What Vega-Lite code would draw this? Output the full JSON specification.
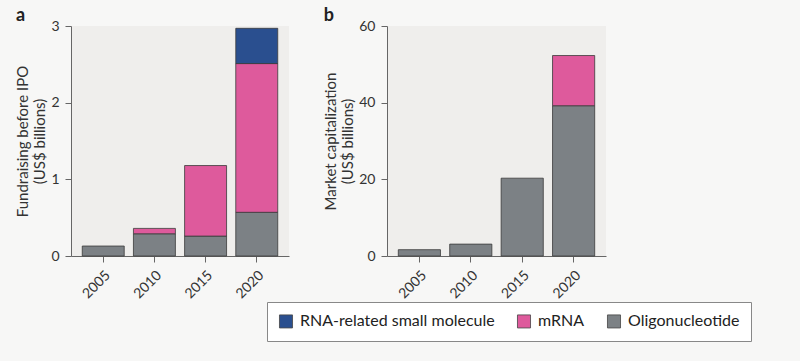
{
  "$schema": "https://vega.github.io/schema/vega-lite/v6.json",
  "background": "#f7f7f6",
  "padding": {"left": 15, "top": 7, "right": 55, "bottom": 30},
  "datasets": {
    "fund": [
      {"year": "2005", "type": "Oligonucleotide", "ord": 1, "value": 0.13},
      {"year": "2010", "type": "Oligonucleotide", "ord": 1, "value": 0.29},
      {"year": "2010", "type": "mRNA", "ord": 2, "value": 0.07},
      {"year": "2015", "type": "Oligonucleotide", "ord": 1, "value": 0.26},
      {"year": "2015", "type": "mRNA", "ord": 2, "value": 0.92},
      {"year": "2020", "type": "Oligonucleotide", "ord": 1, "value": 0.57},
      {"year": "2020", "type": "mRNA", "ord": 2, "value": 1.94},
      {"year": "2020", "type": "RNA-related small molecule", "ord": 3, "value": 0.46}
    ],
    "cap": [
      {"year": "2005", "type": "Oligonucleotide", "ord": 1, "value": 1.65},
      {"year": "2010", "type": "Oligonucleotide", "ord": 1, "value": 3.1},
      {"year": "2015", "type": "Oligonucleotide", "ord": 1, "value": 20.3},
      {"year": "2020", "type": "Oligonucleotide", "ord": 1, "value": 39.2},
      {"year": "2020", "type": "mRNA", "ord": 2, "value": 13.1}
    ]
  },
  "spacing": 34,
  "hconcat": [
    {
      "title": {"text": "a", "anchor": "start", "frame": "bounds", "fontSize": 18, "fontWeight": "bold", "font": "Lato", "color": "#222", "offset": -6},
      "width": 218,
      "height": 230,
      "data": {"name": "fund"},
      "mark": {"type": "bar", "stroke": "#3a3a3a", "strokeWidth": 0.8},
      "encoding": {
        "x": {"field": "year", "type": "nominal", "scale": {"paddingInner": 0.18, "paddingOuter": 0.22}, "axis": {"title": null, "labelAngle": -45}},
        "y": {"field": "value", "type": "quantitative", "stack": "zero", "scale": {"domain": [0, 3], "nice": false}, "axis": {"title": ["Fundraising before IPO", "(US$ billions)"], "values": [0, 1, 2, 3]}},
        "color": {"field": "type", "type": "nominal", "scale": {"domain": ["RNA-related small molecule", "mRNA", "Oligonucleotide"], "range": ["#2a4f8f", "#de5a9c", "#7c8185"]}, "legend": {"title": null}},
        "order": {"field": "ord", "type": "quantitative"}
      }
    },
    {
      "title": {"text": "b", "anchor": "start", "frame": "bounds", "fontSize": 18, "fontWeight": "bold", "font": "Lato", "color": "#222", "offset": -6},
      "width": 219,
      "height": 230,
      "data": {"name": "cap"},
      "mark": {"type": "bar", "stroke": "#3a3a3a", "strokeWidth": 0.8},
      "encoding": {
        "x": {"field": "year", "type": "nominal", "scale": {"paddingInner": 0.18, "paddingOuter": 0.22}, "axis": {"title": null, "labelAngle": -45}},
        "y": {"field": "value", "type": "quantitative", "stack": "zero", "scale": {"domain": [0, 60], "nice": false}, "axis": {"title": ["Market capitalization", "(US$ billions)"], "values": [0, 20, 40, 60]}},
        "color": {"field": "type", "type": "nominal", "scale": {"domain": ["RNA-related small molecule", "mRNA", "Oligonucleotide"], "range": ["#2a4f8f", "#de5a9c", "#7c8185"]}, "legend": {"title": null}},
        "order": {"field": "ord", "type": "quantitative"}
      }
    }
  ],
  "config": {
    "view": {"fill": "#efeeec", "stroke": null},
    "font": "Lato",
    "axis": {
      "grid": false,
      "domainColor": "#666",
      "tickColor": "#666",
      "tickSize": 6,
      "labelFont": "Lato",
      "labelFontSize": 14,
      "labelColor": "#333",
      "titleFont": "Lato",
      "titleFontSize": 15,
      "titleFontWeight": "normal",
      "titleColor": "#333",
      "titlePadding": 3,
      "labelPadding": 6
    },
    "legend": {
      "orient": "none",
      "legendX": 196,
      "legendY": 276,
      "direction": "horizontal",
      "strokeColor": "#888",
      "fillColor": "#ffffff",
      "padding": 11,
      "symbolType": "square",
      "symbolSize": 170,
      "symbolStrokeColor": "#444",
      "symbolStrokeWidth": 0.8,
      "symbolOpacity": 1,
      "labelFont": "Lato",
      "labelFontSize": 16,
      "labelColor": "#222",
      "labelOffset": 6,
      "columnPadding": 20,
      "labelLimit": 300
    }
  }
}
